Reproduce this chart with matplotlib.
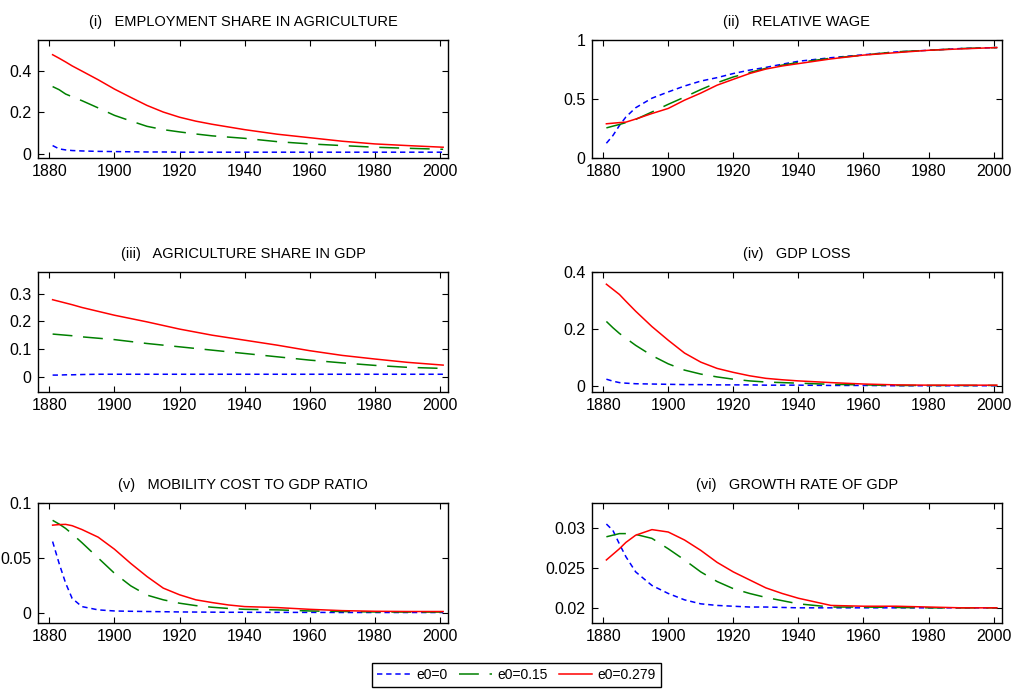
import numpy as np
import matplotlib
matplotlib.use('Agg')
import matplotlib.pyplot as plt
from matplotlib.ticker import FormatStrFormatter

plt.rcParams['font.family'] = ['Liberation Sans', 'DejaVu Sans']

years = [1881, 1883, 1885, 1887, 1890, 1895, 1900, 1905, 1910, 1915, 1920,
         1925, 1930, 1935, 1940, 1950, 1960, 1970, 1980, 1990, 2001]

labels = ['e0=0', 'e0=0.15', 'e0=0.279']

# (i) employment share in agriculture
emp_e0 = [.040, .024, .019, .016, .014, .012, .011, .010, .009, .009, .008,
          .008, .008, .008, .008, .008, .008, .008, .008, .008, .008]
emp_e15 = [.325, .310, .289, .276, .257, .222, .186, .159, .133, .117, .106,
           .096, .087, .081, .075, .059, .048, .040, .032, .027, .022]
emp_e279 = [.479, .462, .444, .425, .400, .358, .313, .273, .234, .202, .177,
            .158, .143, .130, .117, .095, .078, .061, .048, .040, .032]

# (ii) relative wage
wage_e0 = [.125, .19, .275, .348, .426, .507, .56, .61, .652, .681, .716,
           .745, .768, .795, .82, .85, .875, .899, .913, .928, .936]
wage_e15 = [.255, .27, .284, .30, .327, .39, .455, .516, .58, .638, .687,
            .725, .76, .787, .81, .846, .872, .90, .913, .928, .936]
wage_e279 = [.29, .295, .30, .304, .33, .377, .42, .49, .55, .617, .667,
             .716, .754, .78, .80, .84, .872, .893, .913, .925, .936]

# (iii) agriculture share in gdp
agdp_e0 = [.006, .006, .007, .007, .008, .009, .009, .009, .009, .009, .009,
           .009, .009, .009, .009, .009, .009, .009, .009, .009, .009]
agdp_e15 = [.154, .152, .150, .148, .144, .139, .134, .127, .120, .114, .108,
            .102, .096, .090, .084, .072, .060, .050, .041, .034, .030]
agdp_e279 = [.278, .272, .266, .260, .250, .236, .222, .210, .198, .185, .172,
             .161, .150, .141, .132, .114, .094, .077, .064, .052, .042]

# (iv) gdp loss
loss_e0 = [.024, .017, .012, .010, .008, .007, .006, .005, .005, .004, .004,
           .004, .003, .003, .003, .002, .002, .001, .001, .001, .001]
loss_e15 = [.227, .205, .185, .168, .143, .107, .078, .056, .042, .032, .024,
            .018, .014, .012, .010, .006, .004, .002, .002, .002, .002]
loss_e279 = [.358, .340, .322, .298, .263, .209, .161, .116, .084, .062, .048,
             .036, .027, .022, .018, .012, .007, .004, .003, .003, .003]

# (v) mobility cost to gdp ratio
mob_e0 = [.065, .045, .027, .013, .0055, .0025, .0015, .0012, .001, .0008, .0006,
          .0005, .0004, .0003, .0003, .0002, .0002, .0001, .0001, .0001, .0001]
mob_e15 = [.0844, .081, .077, .072, .064, .050, .036, .0245, .016, .0117, .0086,
           .0064, .0049, .0038, .003, .0025, .0015, .001, .0006, .0005, .0005]
mob_e279 = [.080, .0805, .0807, .0795, .076, .069, .058, .045, .033, .0224, .0163,
            .0117, .0092, .007, .0055, .0046, .003, .0018, .0012, .001, .001]

# (vi) growth rate of gdp
gr_e0 = [.0305, .0297, .0280, .0264, .0245, .0228, .0218, .0210, .0205, .0203, .0202,
         .0201, .0201, .02005, .0200, .0200, .0200, .0200, .0200, .0200, .0200]
gr_e15 = [.0289, .0291, .0293, .0293, .0292, .0287, .0274, .0260, .0245, .0233, .0224,
          .0218, .0213, .0209, .0205, .0201, .0201, .02005, .0200, .0200, .0200]
gr_e279 = [.0260, .0267, .0274, .0282, .0291, .0298, .0295, .0285, .0272, .0257, .0245,
           .0235, .0225, .0218, .0212, .0203, .0202, .0202, .0201, .0200, .0200]

panels = [
    ('(i)   EMPLOYMENT SHARE IN AGRICULTURE', emp_e0, emp_e15, emp_e279, (-0.02, 0.55), [0, 0.2, 0.4]),
    ('(ii)   RELATIVE WAGE', wage_e0, wage_e15, wage_e279, (0, 1), [0, 0.5, 1]),
    ('(iii)   AGRICULTURE SHARE IN GDP', agdp_e0, agdp_e15, agdp_e279, (-0.055, 0.377), [0, 0.1, 0.2, 0.3]),
    ('(iv)   GDP LOSS', loss_e0, loss_e15, loss_e279, (-0.021, 0.4), [0, 0.2, 0.4]),
    ('(v)   MOBILITY COST TO GDP RATIO', mob_e0, mob_e15, mob_e279, (-0.0095, 0.1), [0, 0.05, 0.1]),
    ('(vi)   GROWTH RATE OF GDP', gr_e0, gr_e15, gr_e279, (0.0181, 0.0331), [0.02, 0.025, 0.03]),
]

fig = plt.figure(figsize=(10.15, 6.96), dpi=100)
lefts = [0.0374, 0.583]
bottoms = [0.773, 0.4368, 0.1049]
heights = [0.1695, 0.172, 0.172]

lines = None
for i, (title, b, g, r, ylim, yt) in enumerate(panels):
    row, col = i // 2, i % 2
    ax = fig.add_axes([lefts[col], bottoms[row], 0.404, heights[row]])
    l1, = ax.plot(years, b, color='#0000ff', lw=1.1, dashes=(3.5, 2.5))
    l2, = ax.plot(years, g, color='#008000', lw=1.1, dashes=(13, 7))
    l3, = ax.plot(years, r, color='#ff0000', lw=1.1)
    lines = [l1, l2, l3]
    ax.set_xlim(1876.5, 2002.5)
    ax.set_ylim(*ylim)
    ax.set_xticks([1880, 1900, 1920, 1940, 1960, 1980, 2000])
    ax.set_yticks(yt)
    ax.yaxis.set_major_formatter(FormatStrFormatter('%g'))
    ax.tick_params(direction='in', top=True, right=True, length=4, width=0.8,
                   labelsize=11.5, pad=4.5)
    for s in ax.spines.values():
        s.set_linewidth(1.0)
    ax.set_title(title, fontsize=10.5, pad=10)

fig.legend(lines, labels, loc='center', bbox_to_anchor=(0.509, 0.030), ncol=3,
           fontsize=10, frameon=True, fancybox=False, edgecolor='black',
           handlelength=2.4, columnspacing=0.8, handletextpad=0.4,
           borderpad=0.35, framealpha=1)

plt.savefig('out.png', dpi=100)
